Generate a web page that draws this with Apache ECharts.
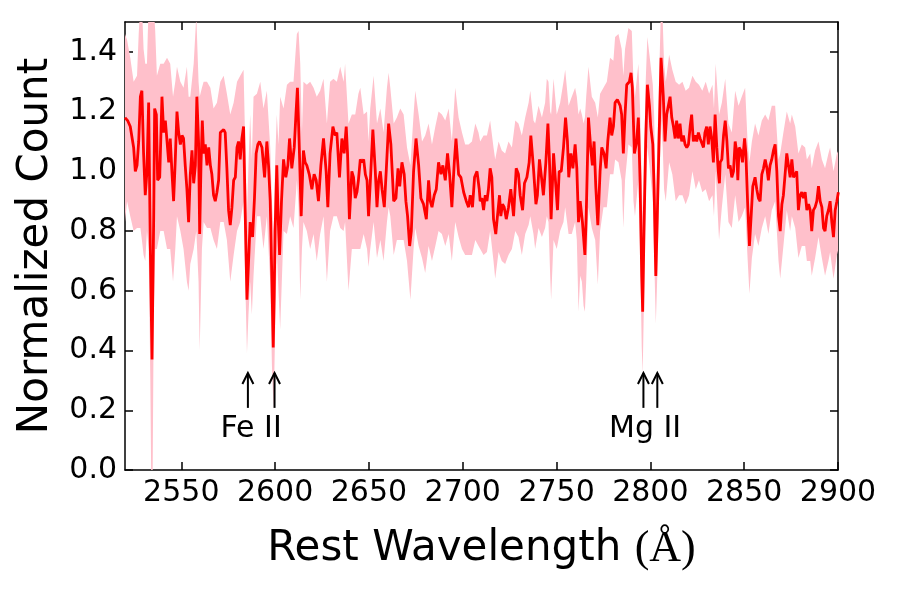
<!DOCTYPE html>
<html>
<head>
<meta charset="utf-8">
<title>Spectrum</title>
<script src="https://cdn.jsdelivr.net/npm/echarts/dist/echarts.min.js"></script>
<style>
html, body { margin: 0; padding: 0; background: #fff; }
#spectrum { width: 900px; height: 600px; }
</style>
</head>
<body>
<div id="spectrum"></div>
<script>
// flux (red line)
var fluxWave = [
    2520.0, 2521.4, 2522.8, 2523.7, 2524.6, 2525.5, 2526.4, 2527.3, 2528.2, 2529.0,
    2529.9, 2530.8, 2531.7, 2532.6, 2533.5, 2534.4, 2535.3, 2535.8, 2536.7, 2537.4,
    2538.5, 2539.7, 2540.6, 2541.5, 2542.4, 2543.3, 2544.1, 2545.0, 2545.9, 2546.8,
    2547.7, 2548.6, 2549.5, 2550.4, 2551.2, 2552.1, 2553.0, 2553.9, 2554.8, 2555.7,
    2556.6, 2557.5, 2558.3, 2559.2, 2559.8, 2560.5, 2561.2, 2561.9, 2562.8, 2563.7,
    2564.6, 2565.5, 2566.3, 2567.2, 2568.1, 2569.0, 2569.9, 2570.8, 2572.6, 2573.4,
    2574.3, 2575.2, 2576.1, 2577.0, 2577.9, 2578.8, 2579.7, 2580.5,
    2581.4, 2582.3, 2583.2, 2584.1, 2585.0, 2585.8, 2586.7, 2588.0, 2589.0, 2589.9,
    2590.8, 2591.7, 2593.0, 2594.4, 2595.6, 2596.5, 2597.4, 2598.3, 2599.0, 2599.5,
    2600.0, 2600.9, 2601.6, 2602.4, 2603.4, 2604.5, 2605.7, 2606.8, 2607.7, 2608.9,
    2610.2, 2611.1, 2611.9, 2612.8, 2613.9, 2615.1, 2616.0, 2616.9, 2618.2, 2619.6,
    2620.8, 2621.9, 2623.1, 2624.4, 2625.8, 2627.2, 2628.1, 2629.3, 2630.8, 2632.0,
    2632.9, 2634.3, 2635.6, 2636.8, 2637.9, 2638.6, 2639.6, 2640.9, 2641.8, 2642.7,
    2643.6, 2644.4,
    2645.4, 2646.3, 2647.2, 2648.1, 2649.0, 2649.8, 2650.7, 2652.1, 2653.4, 2654.3,
    2655.2, 2656.1, 2657.0, 2658.2, 2659.3, 2660.5, 2661.7, 2663.2, 2664.4, 2665.5,
    2666.4, 2667.6, 2668.8, 2669.7, 2670.6, 2671.7, 2672.6, 2673.8, 2675.1, 2676.5,
    2677.7, 2679.1, 2680.6, 2681.8, 2682.7, 2683.6, 2684.8, 2685.9, 2687.1, 2688.4,
    2689.4, 2690.7, 2691.9, 2693.0, 2694.2, 2695.5, 2696.4, 2697.8, 2699.0, 2700.5,
    2701.9, 2703.1, 2704.0, 2705.2, 2706.3, 2707.6, 2708.8,
    2709.3, 2710.2, 2711.1, 2712.0, 2712.9, 2713.7, 2714.6, 2715.5, 2716.4, 2717.6,
    2718.5, 2719.6, 2720.3, 2721.2, 2722.1, 2723.2, 2724.4, 2725.6, 2727.1, 2728.5,
    2729.7, 2730.6, 2731.9, 2732.9, 2734.2, 2735.4, 2736.3, 2737.7, 2739.0, 2739.8,
    2740.9, 2741.8, 2743.0, 2744.3, 2745.4, 2746.2, 2747.1, 2748.4, 2749.3, 2750.5,
    2751.4, 2752.5, 2753.7, 2754.8, 2755.8, 2756.5, 2757.6, 2758.7, 2759.9, 2760.8,
    2761.7, 2762.6, 2763.8, 2765.1, 2765.8, 2767.0, 2768.3, 2769.1, 2770.0, 2770.9,
    2772.0,
    2773.2, 2774.1, 2775.3, 2776.4, 2777.3, 2778.5, 2779.4, 2780.3, 2781.2, 2782.4,
    2783.9, 2784.7, 2785.6, 2786.5, 2787.4, 2788.8, 2789.7, 2790.4, 2791.5, 2792.7,
    2793.6, 2794.5, 2795.4, 2795.9, 2796.6, 2797.5, 2798.4, 2799.5, 2800.2, 2801.3,
    2802.0, 2802.9, 2803.7, 2804.6, 2805.7, 2806.9, 2807.8, 2808.7, 2809.6, 2810.5,
    2811.4, 2812.3, 2813.2, 2814.0, 2814.9, 2815.8, 2816.7, 2817.6, 2818.5, 2819.4,
    2820.3, 2821.2, 2822.0, 2822.9, 2823.8, 2824.7, 2825.6, 2826.5, 2827.4, 2828.3,
    2829.1, 2830.0, 2830.9, 2831.8, 2832.7, 2833.6, 2834.5, 2835.4, 2836.2, 2836.8,
    2837.2, 2838.1, 2839.0, 2839.9, 2840.8, 2841.6, 2842.5, 2843.4, 2844.3, 2845.2,
    2846.1, 2846.6, 2847.3, 2848.2, 2849.1, 2850.2, 2850.9, 2851.8, 2852.8, 2853.7,
    2854.6, 2855.8, 2856.7, 2857.6, 2858.5, 2859.4, 2860.3, 2861.2, 2862.1, 2862.9,
    2863.8, 2864.7, 2865.6, 2866.5, 2867.4, 2868.3, 2869.2, 2870.1, 2870.9, 2871.8,
    2872.7, 2873.6, 2874.5, 2875.4, 2876.3, 2877.2, 2878.0, 2878.9, 2879.8, 2880.7,
    2881.6, 2882.5, 2883.4, 2884.3, 2885.2, 2886.0, 2886.9, 2887.8, 2888.7, 2889.6,
    2890.5, 2891.4, 2892.3, 2893.1, 2894.0, 2894.9, 2895.8, 2896.7, 2897.6, 2898.5,
    2899.4, 2900.2
];
var fluxValue = [
    1.18, 1.17, 1.15, 1.15, 1.08, 1.00, 1.02, 1.10, 1.25, 1.27,
    1.06, 0.92, 1.00, 1.23, 0.74, 0.37, 0.85, 1.21, 1.19, 0.97,
    0.98, 1.25, 1.13, 1.17, 1.10, 1.03, 1.11, 1.00, 0.90, 1.04,
    1.20, 1.13, 1.09, 1.12, 1.11, 1.02, 0.94, 0.83, 0.99, 1.07,
    0.96, 1.02, 1.25, 1.10, 0.79, 1.02, 1.17, 1.06, 1.09, 1.02,
    1.08, 1.02, 0.99, 0.92, 0.90, 0.93, 0.97, 1.13, 1.14, 1.13,
    1.01, 0.87, 0.82, 0.88, 0.97, 0.98, 1.08, 1.10,
    1.04, 1.11, 1.15, 0.85, 0.57, 0.69, 0.83, 0.78, 0.91, 1.06,
    1.09, 1.10, 1.08, 0.98, 1.10, 1.02, 0.90, 0.63, 0.41, 0.58,
    0.80, 1.02, 0.85, 0.72, 0.90, 1.04, 0.98, 1.02, 1.11, 1.01,
    1.08, 1.19, 1.28, 1.10, 0.85, 1.07, 1.03, 1.02, 0.99, 0.94,
    0.99, 0.97, 0.90, 1.02, 1.11, 1.00, 0.88, 1.06, 1.15, 1.12,
    1.13, 0.98, 1.11, 1.06, 1.15, 1.06, 0.84, 1.00, 0.98, 0.91,
    0.93, 0.97,
    1.04, 1.03, 1.04, 0.99, 0.97, 0.85, 0.96, 1.14, 1.00, 0.88,
    0.97, 1.00, 0.94, 0.88, 1.01, 1.16, 1.09, 0.90, 0.91, 1.01,
    0.95, 1.03, 0.99, 0.90, 0.85, 0.75, 0.80, 1.00, 1.11, 1.02,
    0.91, 0.89, 0.84, 0.97, 0.90, 0.88, 0.92, 0.94, 1.03, 0.99,
    1.02, 0.97, 1.06, 0.99, 0.88, 1.03, 1.11, 0.99, 0.98, 0.93,
    0.90, 0.88, 0.92, 0.88, 0.98, 1.00, 0.94,
    0.90, 0.91, 0.87, 0.92, 0.90, 0.94, 1.01, 0.98, 0.84, 0.79,
    0.85, 0.92, 0.85, 0.89, 0.88, 0.84, 0.88, 0.94, 0.85, 1.01,
    0.99, 0.92, 0.87, 0.96, 0.98, 1.03, 1.12, 1.01, 0.89, 0.92,
    1.04, 0.99, 0.92, 1.03, 1.16, 1.04, 0.84, 1.06, 0.98, 0.87,
    1.00, 1.00, 1.08, 1.18, 1.10, 0.98, 1.06, 1.01, 1.09, 1.01,
    0.83, 0.90, 0.83, 0.72, 0.85, 1.18, 1.07, 1.02, 1.10, 0.95,
    0.82,
    1.00, 1.08, 1.06, 1.01, 1.10, 1.18, 1.12, 1.15, 1.23, 1.24,
    1.22, 1.19, 1.06, 1.19, 1.29, 1.30, 1.33, 1.28, 1.06, 1.10,
    1.18, 0.97, 0.65, 0.53, 0.80, 1.10, 1.29, 1.22, 1.15, 1.09,
    0.94, 0.65, 0.85, 1.10, 1.38, 1.25, 1.10, 1.19, 1.22, 1.25,
    1.18, 1.15, 1.11, 1.17, 1.11, 1.16, 1.10, 1.12, 1.09, 1.08,
    1.09, 1.15, 1.19, 1.10, 1.12, 1.10, 1.13, 1.11, 1.11, 1.08,
    1.13, 1.15, 1.09, 1.15, 1.11, 1.03, 1.19, 1.08, 1.00, 0.96,
    1.03, 1.04, 1.12, 1.17, 1.10, 1.01, 1.02, 0.98, 1.00, 1.10,
    1.06, 0.97, 1.08, 1.07, 1.03, 1.11, 1.06, 0.90, 0.75, 0.85,
    0.95, 0.98, 0.94, 0.91, 0.90, 0.99, 1.01, 1.04, 1.01, 0.97,
    1.02, 1.04, 1.07, 1.09, 1.00, 0.85, 0.80, 0.89, 0.92, 0.99,
    1.06, 1.02, 0.98, 1.04, 0.98, 0.99, 1.00, 0.87, 0.92, 0.93,
    0.91, 0.93, 0.87, 0.89, 0.87, 0.80, 0.87, 0.88, 0.90, 0.95,
    0.90, 0.88, 0.81, 0.80, 0.85, 0.87, 0.90, 0.83, 0.78, 0.87,
    0.90, 0.93
];

// error band (pink), upper and lower edge
var bandWave = [
    2520.0, 2521.1, 2522.8, 2524.6, 2526.4, 2527.3, 2528.2, 2529.0, 2529.9, 2530.8,
    2531.7, 2532.6, 2533.5, 2534.0, 2534.7, 2535.3, 2536.1, 2537.0, 2538.8, 2540.6,
    2542.4, 2544.1, 2545.6, 2546.8, 2547.7, 2549.5, 2551.2, 2553.0, 2553.9, 2554.8,
    2556.6, 2558.0, 2559.2, 2559.8, 2561.0, 2561.9, 2563.7, 2565.5, 2567.2, 2569.0,
    2570.8, 2572.6, 2574.3, 2576.1, 2577.9, 2579.7,
    2581.4, 2583.2, 2584.1, 2585.0, 2585.8, 2586.7, 2587.6, 2588.5, 2590.3, 2592.1,
    2593.8, 2595.6, 2597.4, 2598.3, 2599.2, 2600.0, 2600.9, 2601.8, 2602.7, 2604.5,
    2606.3, 2608.0, 2609.8, 2611.6, 2612.5, 2613.4, 2614.3, 2615.1, 2616.9, 2618.7,
    2620.5, 2622.2, 2624.0, 2625.8, 2627.6, 2629.3, 2631.1, 2632.9, 2634.7, 2636.5,
    2637.3, 2639.1, 2640.9, 2642.7, 2644.4,
    2645.4, 2647.2, 2649.0, 2649.8, 2650.7, 2652.5, 2654.3, 2656.1, 2657.8, 2659.6,
    2660.5, 2661.4, 2663.2, 2664.9, 2666.7, 2668.5, 2670.3, 2672.1, 2673.8, 2674.7,
    2676.5, 2678.3, 2680.0, 2681.8, 2683.6, 2685.4, 2687.1, 2688.9, 2690.7, 2692.5,
    2694.2, 2696.0, 2697.8, 2699.6, 2701.3, 2703.1, 2704.9, 2706.7, 2708.4,
    2709.3, 2711.1, 2712.9, 2714.6, 2716.4, 2717.3, 2719.1, 2720.8, 2722.6, 2724.4,
    2726.2, 2728.0, 2729.7, 2731.5, 2733.3, 2735.1, 2736.0, 2737.7, 2738.6, 2740.4,
    2742.2, 2743.9, 2744.8, 2745.7, 2746.6, 2747.1, 2748.4, 2750.1, 2751.9, 2753.7,
    2754.6, 2756.4, 2758.1, 2759.9, 2760.8, 2761.7, 2762.6, 2763.5, 2764.4, 2765.1,
    2765.8, 2767.0, 2768.8, 2770.6, 2772.0,
    2773.2, 2775.0, 2776.8, 2778.5, 2780.3, 2781.2, 2783.0, 2784.7, 2785.6, 2786.5,
    2788.3, 2790.1, 2791.0, 2791.8, 2793.6, 2794.5, 2795.4, 2795.9, 2796.6, 2797.5,
    2798.4, 2799.5, 2801.3, 2802.0, 2802.9, 2803.7, 2804.6, 2805.7, 2806.6, 2807.3,
    2808.2, 2810.0, 2811.7, 2813.5, 2815.3, 2817.1, 2818.8, 2820.6, 2822.4, 2824.2,
    2825.9, 2827.7, 2829.5, 2831.3, 2833.1, 2833.9, 2834.8, 2836.6,
    2838.1, 2839.9, 2841.6, 2843.4, 2845.2, 2847.0, 2848.7, 2850.5, 2851.8, 2852.8,
    2854.1, 2855.8, 2857.6, 2859.4, 2861.2, 2862.9, 2864.7, 2866.5, 2868.3, 2869.2,
    2870.9, 2872.7, 2874.5, 2875.4, 2877.2, 2878.9, 2880.7, 2882.5, 2883.4, 2885.2,
    2886.0, 2887.8, 2889.6, 2891.4, 2893.1, 2894.9, 2895.8, 2897.6, 2899.4, 2900.2
];
var bandUpper = [
    1.46, 1.44, 1.38, 1.30, 1.32, 1.46, 1.56, 1.56, 1.41, 1.36,
    1.36, 1.56, 1.56, 1.56, 1.56, 1.56, 1.47, 1.32, 1.36, 1.36,
    1.38, 1.36, 1.25, 1.30, 1.35, 1.30, 1.28, 1.35, 1.25, 1.25,
    1.36, 1.52, 1.30, 1.25, 1.28, 1.30, 1.30, 1.28, 1.21, 1.23,
    1.30, 1.32, 1.26, 1.19, 1.23, 1.30,
    1.32, 1.34, 1.08, 0.85, 1.02, 1.19, 1.04, 1.25, 1.26, 1.30,
    1.21, 1.27, 1.08, 0.90, 0.80, 1.03, 1.19, 1.09, 1.25, 1.21,
    1.29, 1.30, 1.30, 1.46, 1.47, 1.36, 1.13, 1.30, 1.29, 1.30,
    1.28, 1.25, 1.27, 1.31, 1.16, 1.30, 1.31, 1.30, 1.35, 1.30,
    1.36, 1.16, 1.19, 1.19, 1.26,
    1.28, 1.19, 1.20, 1.10, 1.21, 1.32, 1.16, 1.21, 1.13, 1.28,
    1.33, 1.28, 1.16, 1.18, 1.21, 1.19, 1.08, 1.02, 1.19, 1.27,
    1.19, 1.10, 1.12, 1.16, 1.09, 1.15, 1.20, 1.19, 1.17, 1.21,
    1.10, 1.28, 1.18, 1.13, 1.09, 1.09, 1.10, 1.16, 1.13,
    1.10, 1.12, 1.12, 1.17, 1.08, 1.04, 1.10, 1.07, 1.06, 1.10,
    1.08, 1.17, 1.16, 1.12, 1.18, 1.23, 1.27, 1.17, 1.16, 1.22,
    1.18, 1.23, 1.31, 1.30, 1.20, 1.19, 1.31, 1.19, 1.23, 1.30,
    1.34, 1.22, 1.25, 1.28, 1.25, 1.19, 1.21, 1.19, 1.16, 1.18,
    1.25, 1.35, 1.25, 1.23, 1.18,
    1.26, 1.28, 1.30, 1.38, 1.37, 1.45, 1.46, 1.41, 1.32, 1.41,
    1.48, 1.47, 1.30, 1.25, 1.36, 1.21, 0.97, 0.85, 1.02, 1.30,
    1.45, 1.39, 1.29, 1.19, 0.91, 1.08, 1.30, 1.56, 1.50, 1.36,
    1.30, 1.39, 1.34, 1.30, 1.29, 1.30, 1.27, 1.28, 1.32, 1.30,
    1.29, 1.27, 1.30, 1.26, 1.29, 1.21, 1.36, 1.19,
    1.23, 1.31, 1.16, 1.13, 1.27, 1.22, 1.25, 1.28, 1.10, 1.03,
    1.10, 1.16, 1.12, 1.17, 1.19, 1.17, 1.22, 1.22, 1.04, 1.06,
    1.13, 1.20, 1.16, 1.19, 1.15, 1.06, 1.09, 1.08, 1.04, 1.06,
    1.01, 1.07, 1.10, 1.04, 1.01, 1.06, 1.08, 1.00, 1.06, 1.07
];
var bandLower = [
    0.83, 0.90, 0.85, 0.80, 0.81, 0.81, 0.81, 0.77, 0.72, 0.70,
    0.80, 0.74, 0.30, -0.05, -0.05, 0.52, 0.74, 0.74, 0.80, 0.80,
    0.74, 0.74, 0.63, 0.74, 0.85, 0.80, 0.74, 0.63, 0.60, 0.69,
    0.74, 0.80, 0.63, 0.40, 0.74, 0.83, 0.81, 0.81, 0.77, 0.74,
    0.83, 0.83, 0.77, 0.63, 0.72, 0.80,
    0.83, 0.90, 0.63, 0.39, 0.52, 0.63, 0.52, 0.65, 0.85, 0.85,
    0.74, 0.85, 0.63, 0.35, 0.20, 0.46, 0.74, 0.60, 0.47, 0.80,
    0.79, 0.85, 0.81, 0.97, 0.88, 0.57, 0.74, 0.83, 0.80, 0.74,
    0.79, 0.70, 0.79, 0.85, 0.63, 0.80, 0.85, 0.85, 0.81, 0.80,
    0.83, 0.60, 0.74, 0.74, 0.74,
    0.74, 0.79, 0.74, 0.68, 0.74, 0.83, 0.71, 0.77, 0.70, 0.83,
    0.88, 0.85, 0.72, 0.77, 0.77, 0.77, 0.70, 0.57, 0.74, 0.81,
    0.75, 0.71, 0.66, 0.75, 0.70, 0.75, 0.80, 0.79, 0.75, 0.79,
    0.70, 0.83, 0.78, 0.74, 0.72, 0.72, 0.72, 0.77, 0.75,
    0.74, 0.72, 0.73, 0.80, 0.70, 0.64, 0.73, 0.70, 0.69, 0.72,
    0.74, 0.80, 0.78, 0.72, 0.79, 0.82, 0.85, 0.79, 0.74, 0.81,
    0.78, 0.81, 0.85, 0.83, 0.65, 0.57, 0.77, 0.74, 0.80, 0.83,
    0.88, 0.79, 0.79, 0.83, 0.77, 0.53, 0.65, 0.63, 0.55, 0.53,
    0.63, 0.88, 0.81, 0.77, 0.62,
    0.80, 0.88, 0.88, 0.99, 0.99, 1.04, 1.03, 0.97, 0.81, 0.97,
    1.09, 1.08, 0.90, 0.85, 0.97, 0.74, 0.41, 0.32, 0.57, 0.90,
    1.08, 1.02, 0.90, 0.72, 0.49, 0.65, 0.90, 1.17, 1.08, 0.94,
    0.90, 1.03, 0.99, 0.90, 0.92, 0.92, 0.89, 0.92, 1.00, 0.94,
    0.97, 0.93, 0.94, 0.90, 0.92, 0.85, 1.00, 0.77,
    0.88, 0.99, 0.83, 0.81, 0.92, 0.83, 0.85, 0.88, 0.71, 0.59,
    0.71, 0.79, 0.75, 0.81, 0.85, 0.79, 0.87, 0.90, 0.70, 0.64,
    0.75, 0.87, 0.80, 0.85, 0.81, 0.71, 0.75, 0.75, 0.70, 0.70,
    0.65, 0.71, 0.78, 0.71, 0.65, 0.70, 0.73, 0.64, 0.72, 0.74
];

// ticks
var xTicks = [2550, 2600, 2650, 2700, 2750, 2800, 2850, 2900];
var yTicks = [0.0, 0.2, 0.4, 0.6, 0.8, 1.0, 1.2, 1.4];

// absorption line markers
var arrowWave = [2585.5, 2599.7, 2796.3, 2803.7];
var arrowFrom = [0.208, 0.208, 0.208, 0.208];
var arrowTo = [0.325, 0.325, 0.325, 0.325];
var lineNames = ['Fe II', 'Mg II'];
var lineNameWave = [2587.2, 2797.2];
var lineNameY = [0.137, 0.137];

var chart = echarts.init(document.getElementById('spectrum'));

var fontMain = 'DejaVu Sans';

var frameAxis = function (pos, isX, showLabel) {
    var ax = {
        type: 'value',
        position: pos,
        axisLine: { show: true, onZero: false, lineStyle: { color: '#000', width: 1.5 } },
        axisTick: {
            show: true,
            inside: true,
            length: 8,
            customValues: isX ? xTicks : yTicks,
            lineStyle: { color: '#000', width: 1.5 }
        },
        axisLabel: {
            show: showLabel,
            customValues: isX ? xTicks : yTicks,
            color: '#000',
            fontFamily: fontMain,
            fontSize: 30,
            margin: 8,
            formatter: function (v) {
                return isX ? String(v) : v.toFixed(1);
            }
        },
        splitLine: { show: false }
    };
    if (isX) {
        ax.min = 2520;
        ax.max = 2900;
    } else {
        ax.min = 0;
        ax.max = 1.5;
    }
    return ax;
};

var xBottom = frameAxis('bottom', true, true);
xBottom.name = 'Rest Wavelength {s|(Å)}';
xBottom.nameLocation = 'middle';
xBottom.nameGap = 57;
xBottom.nameTextStyle = {
    color: '#000',
    fontFamily: fontMain,
    fontSize: 42,
    rich: {
        s: { color: '#000', fontFamily: 'Liberation Serif', fontSize: 44 }
    }
};

var yLeft = frameAxis('left', false, true);
yLeft.name = 'Normalized Count';
yLeft.nameLocation = 'middle';
yLeft.nameGap = 68;
yLeft.nameTextStyle = { color: '#000', fontFamily: fontMain, fontSize: 42 };

var option = {
    backgroundColor: '#fff',
    animation: false,
    grid: { left: 125, right: 62, top: 22, bottom: 130, containLabel: false },
    xAxis: [xBottom, frameAxis('top', true, false)],
    yAxis: [yLeft, frameAxis('right', false, false)],
    series: [{
        // pink band
        type: 'custom',
        coordinateSystem: 'cartesian2d',
        clip: true,
        silent: true,
        z: 1,
        data: [[2700, 1]],
        renderItem: function (params, api) {
            var pts = [];
            var i;
            for (i = 0; i < bandWave.length; i++) {
                pts.push(api.coord([bandWave[i], bandUpper[i]]));
            }
            for (i = bandWave.length - 1; i >= 0; i--) {
                pts.push(api.coord([bandWave[i], bandLower[i]]));
            }
            return {
                type: 'polygon',
                shape: { points: pts },
                style: { fill: '#ffc0cb', stroke: null }
            };
        }
    }, {
        type: 'line',
        z: 3,
        showSymbol: false,
        silent: true,
        data: fluxWave.map(function (w, i) { return [w, fluxValue[i]]; }),
        lineStyle: { color: '#ff0000', width: 2.8 }
    }, {
        // arrows
        type: 'custom',
        coordinateSystem: 'cartesian2d',
        silent: true,
        z: 4,
        data: arrowWave.map(function (w, i) { return [w, arrowFrom[i], arrowTo[i]]; }),
        renderItem: function (params, api) {
            var p0 = api.coord([api.value(0), api.value(1)]);
            var p1 = api.coord([api.value(0), api.value(2)]);
            var st = { stroke: '#000', lineWidth: 2, fill: null };
            return {
                type: 'group',
                children: [{
                    type: 'line',
                    shape: { x1: p0[0], y1: p0[1], x2: p1[0], y2: p1[1] },
                    style: st
                }, {
                    type: 'polyline',
                    shape: { points: [[p1[0] - 5.5, p1[1] + 11], [p1[0], p1[1]], [p1[0] + 5.5, p1[1] + 11]] },
                    style: st
                }]
            };
        }
    }, {
        // line names
        type: 'custom',
        coordinateSystem: 'cartesian2d',
        silent: true,
        z: 4,
        data: lineNameWave.map(function (w, i) { return [w, lineNameY[i]]; }),
        renderItem: function (params, api) {
            var p = api.coord([api.value(0), api.value(1)]);
            return {
                type: 'text',
                x: p[0],
                y: p[1],
                style: {
                    text: lineNames[params.dataIndex],
                    fill: '#000',
                    fontFamily: fontMain,
                    fontSize: 30,
                    align: 'center',
                    verticalAlign: 'middle'
                }
            };
        }
    }]
};

chart.setOption(option);

window.addEventListener('resize', function () {
    chart.resize();
});
</script>
</body>
</html>
